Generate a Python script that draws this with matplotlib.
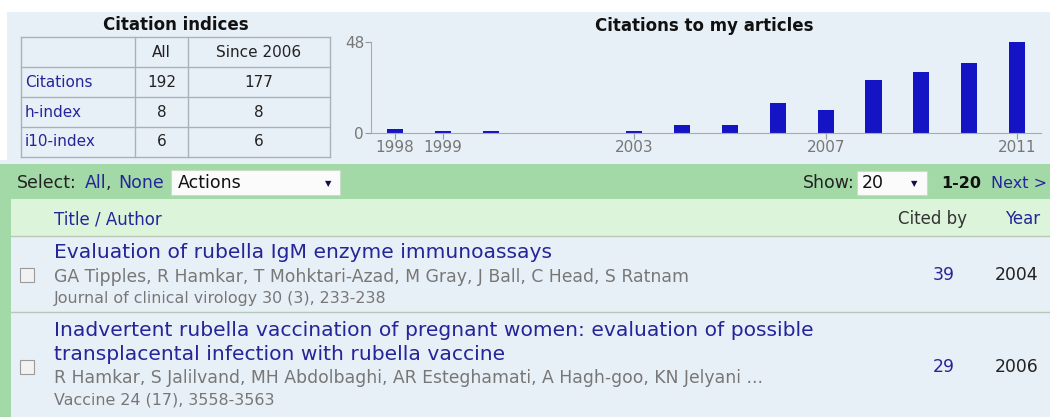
import matplotlib
matplotlib.use("Agg")
import matplotlib.pyplot as plt
from matplotlib.patches import Rectangle

# citation counts per year
years = [1998, 1999, 2000, 2001, 2002, 2003, 2004, 2005, 2006, 2007, 2008, 2009, 2010, 2011]
citations = [2, 1, 1, 0, 0, 1, 4, 4, 16, 12, 28, 32, 37, 48]
year_ticks = [1998, 1999, 2003, 2007, 2011]

# citation indices table
index_cols = ["All", "Since 2006"]
index_rows = ["Citations", "h-index", "i10-index"]
index_all = ["192", "8", "6"]
index_since = ["177", "8", "6"]

# article list
titles = [["Evaluation of rubella IgM enzyme immunoassays"],
          ["Inadvertent rubella vaccination of pregnant women: evaluation of possible",
           "transplacental infection with rubella vaccine"]]
authors = ["GA Tipples, R Hamkar, T Mohktari-Azad, M Gray, J Ball, C Head, S Ratnam",
           "R Hamkar, S Jalilvand, MH Abdolbaghi, AR Esteghamati, A Hagh-goo, KN Jelyani ..."]
journals = ["Journal of clinical virology 30 (3), 233-238",
            "Vaccine 24 (17), 3558-3563"]
cited_by = ["39", "29"]
pub_years = ["2004", "2006"]

BG = "#e8f0f7"
GREEN = "#a3d9a6"
LIGHTGREEN = "#dcf5da"
LINK = "#25259a"
GREY = "#777777"
BAR = "#1414c4"

fig = plt.figure(figsize=(10.5, 4.17), dpi=100)
fig.patch.set_facecolor(BG)

# page layer in pixel coordinates
ax = fig.add_axes([0, 0, 1, 1])
ax.set_xlim(0, 1050)
ax.set_ylim(417, 0)
ax.axis("off")

ax.add_patch(Rectangle((0, 0), 1050, 12, color="white", lw=0))
ax.add_patch(Rectangle((0, 0), 7, 160, color="white", lw=0))

# citation indices table
ax.text(176, 25, "Citation indices", ha="center", va="center", fontsize=12, fontweight="bold", color="#111111")
tx = [21, 135, 188, 330]
ty = [37, 67, 97, 127, 157]
for y in ty:
    ax.plot([tx[0], tx[-1]], [y, y], color="#a8b2ba", lw=1)
for x in tx:
    ax.plot([x, x], [ty[0], ty[-1]], color="#a8b2ba", lw=1)
ax.text(161.5, 52, index_cols[0], ha="center", va="center", fontsize=11, color="#222222")
ax.text(259, 52, index_cols[1], ha="center", va="center", fontsize=11, color="#222222")
for i, name in enumerate(index_rows):
    yc = (ty[i + 1] + ty[i + 2]) / 2
    ax.text(25, yc, name, ha="left", va="center", fontsize=11, color=LINK)
    ax.text(161.5, yc, index_all[i], ha="center", va="center", fontsize=11, color="#222222")
    ax.text(259, yc, index_since[i], ha="center", va="center", fontsize=11, color="#222222")

# bar chart
ax.text(704, 26, "Citations to my articles", ha="center", va="center", fontsize=12, fontweight="bold", color="#111111")
cax = fig.add_axes([371 / 1050, 1 - 132.7 / 417, 670 / 1050, 90.4 / 417])
cax.set_facecolor("none")
cax.bar(years, citations, width=0.34, color=BAR)
cax.set_xlim(1997.5, 2011.5)
cax.set_ylim(0, 48)
cax.set_xticks(year_ticks)
cax.set_yticks([0, 48])
cax.tick_params(colors="#999999", labelcolor="#777777", labelsize=11, length=4, width=0.8, pad=1)
for s in ["top", "right"]:
    cax.spines[s].set_visible(False)
for s in ["left", "bottom"]:
    cax.spines[s].set_color("#aaaaaa")

# toolbar
ax.add_patch(Rectangle((0, 164), 1050, 35, color=GREEN, lw=0))
ax.text(17, 183, "Select:", ha="left", va="center", fontsize=12.5, color="#222222")
ax.text(85, 183, "All", ha="left", va="center", fontsize=12.5, color=LINK)
ax.text(106, 183, ",", ha="left", va="center", fontsize=12.5, color="#222222")
ax.text(118, 183, "None", ha="left", va="center", fontsize=12.5, color=LINK)
ax.add_patch(Rectangle((171, 170), 169, 25, facecolor="#fbfbfb", edgecolor="#c8dcc8", lw=0.8))
ax.text(178, 183, "Actions", ha="left", va="center", fontsize=12.5, color="#111111")
ax.text(328, 184, "\u25bc", ha="center", va="center", fontsize=6, color="#101050")
ax.text(855, 183, "Show:", ha="right", va="center", fontsize=12.5, color="#222222")
ax.add_patch(Rectangle((857, 171), 70, 24, facecolor="#fbfbfb", edgecolor="#c8dcc8", lw=0.8))
ax.text(862, 183, "20", ha="left", va="center", fontsize=12.5, color="#111111")
ax.text(914, 184, "\u25bc", ha="center", va="center", fontsize=6, color="#101050")
ax.text(941, 183, "1-20", ha="left", va="center", fontsize=11.5, fontweight="bold", color="#111111")
ax.text(1047, 183, "Next >", ha="right", va="center", fontsize=11.5, color=LINK)

# list header
ax.add_patch(Rectangle((0, 199), 11, 218, color=GREEN, lw=0))
ax.add_patch(Rectangle((11, 199), 1039, 37, color=LIGHTGREEN, lw=0))
ax.text(54, 219, "Title / Author", ha="left", va="center", fontsize=12, color=LINK)
ax.text(967, 219, "Cited by", ha="right", va="center", fontsize=12, color="#333333")
ax.text(1040, 219, "Year", ha="right", va="center", fontsize=12, color=LINK)
ax.plot([11, 1050], [236, 236], color="#b8c8b8", lw=1)
ax.plot([11, 1050], [312, 312], color="#b8c8b8", lw=1)

# article rows
row_top = [253, 331]
row_mid = [275, 367]
line_h = 23.5
for i in range(len(titles)):
    y = row_top[i]
    for line in titles[i]:
        ax.text(54, y, line, ha="left", va="center", fontsize=14.6, color=LINK)
        y += line_h
    ax.text(54, y, authors[i], ha="left", va="center", fontsize=12.4, color=GREY)
    ax.text(54, y + 22, journals[i], ha="left", va="center", fontsize=11.4, color=GREY)
    ax.add_patch(Rectangle((20, row_mid[i] - 7), 14, 14, facecolor="#f2f2f2", edgecolor="#9a9a9a", lw=0.8))
    ax.text(944, row_mid[i], cited_by[i], ha="center", va="center", fontsize=12.4, color=LINK)
    ax.text(1038, row_mid[i], pub_years[i], ha="right", va="center", fontsize=12.4, color="#222222")

plt.savefig("out.png", dpi=100, facecolor=fig.get_facecolor())
